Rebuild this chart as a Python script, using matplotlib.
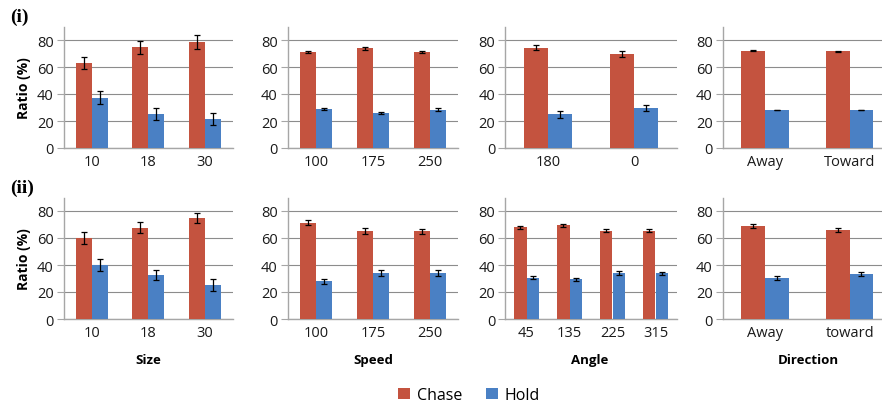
import numpy as np
import matplotlib.pyplot as plt

plt.rcParams['font.family'] = ['Open Sans', 'DejaVu Sans']

CHASE_COLOR = '#c4533f'
HOLD_COLOR = '#4a80c4'

# factor names and their levels
factors = ['Size', 'Speed', 'Angle', 'Direction']
levels_i = [['10', '18', '30'], ['100', '175', '250'], ['180', '0'], ['Away', 'Toward']]
levels_ii = [['10', '18', '30'], ['100', '175', '250'], ['45', '135', '225', '315'], ['Away', 'toward']]

# condition (i)
chase_i = [[62.8, 74.7, 78.6], [70.9, 73.8, 71.2], [74.4, 69.5], [72.2, 71.6]]
chase_err_i = [[4.6, 4.8, 5.0], [0.8, 1.0, 0.9], [2.1, 2.4], [0.3, 0.3]]
hold_i = [[37.1, 25.1, 21.3], [28.7, 25.9, 28.4], [24.9, 29.9], [28.2, 28.2]]
hold_err_i = [[4.8, 4.4, 4.5], [0.9, 1.0, 0.9], [2.4, 2.2], [0.0, 0.0]]

# condition (ii)
chase_ii = [[59.8, 67.6, 75.0], [71.4, 65.4, 64.9], [68.0, 69.4, 65.5, 65.5], [69.0, 66.2]]
chase_err_ii = [[4.3, 3.9, 3.8], [2.0, 2.1, 2.1], [1.0, 1.2, 1.0, 1.0], [1.5, 1.5]]
hold_ii = [[39.9, 32.8, 25.1], [27.8, 33.8, 34.3], [30.6, 29.5, 33.8, 33.8], [30.6, 33.5]]
hold_err_ii = [[4.2, 3.8, 4.2], [2.2, 2.3, 2.3], [1.0, 1.0, 1.5, 1.3], [1.5, 1.5]]

W, H = 882, 406
fig = plt.figure(figsize=(W / 100, H / 100), dpi=100)

# panel extents in pixels (left, right)
cols = [(63.5, 233), (287.5, 458.5), (505, 677), (722.5, 892)]
rows = [(27.5, 149), (198.5, 320)]

bw = 0.28


def draw_panel(ax, labels, chase, chase_err, hold, hold_err):
    x = np.arange(len(labels))
    ekw = dict(ecolor='black', elinewidth=0.9, capsize=2.5, capthick=0.9)
    b1 = ax.bar(x - bw / 2, chase, bw, yerr=chase_err, color=CHASE_COLOR,
                error_kw=ekw, zorder=3, label='Chase')
    b2 = ax.bar(x + bw / 2, hold, bw, yerr=hold_err, color=HOLD_COLOR,
                error_kw=ekw, zorder=3, label='Hold')
    ax.set_xlim(-0.5, len(labels) - 0.5)
    ax.set_ylim(0, 90)
    ax.set_yticks([0, 20, 40, 60, 80])
    ax.set_xticks(x)
    ax.set_xticklabels(labels)
    ax.grid(axis='y', color='#8c8c8c', linewidth=0.8, zorder=0)
    for s in ['top', 'right']:
        ax.spines[s].set_visible(False)
    for s in ['left', 'bottom']:
        ax.spines[s].set_color('#a6a6a6')
        ax.spines[s].set_linewidth(1.0)
    ax.tick_params(axis='y', length=5, color='#a6a6a6', labelsize=10.5, pad=2,
                   labelcolor='#1a1a1a')
    ax.tick_params(axis='x', length=0, labelsize=10.5, pad=4, labelcolor='#1a1a1a')
    return b1, b2


data = [(levels_i, chase_i, chase_err_i, hold_i, hold_err_i),
        (levels_ii, chase_ii, chase_err_ii, hold_ii, hold_err_ii)]

handles = None
for r, (top, bot) in enumerate(rows):
    levels, ch, che, ho, hoe = data[r]
    for c, (left, right) in enumerate(cols):
        ax = fig.add_axes([left / W, 1 - bot / H, (right - left) / W, (bot - top) / H])
        handles = draw_panel(ax, levels[c], ch[c], che[c], ho[c], hoe[c])
        if c == 0:
            ax.set_ylabel('Ratio (%)', fontsize=10, fontweight='bold', labelpad=4)

# row tags
fig.text(10 / W, 1 - 17 / H, '(i)', family='Liberation Serif', fontweight='bold',
         fontsize=14, va='center', ha='left')
fig.text(10 / W, 1 - 188 / H, '(ii)', family='Liberation Serif', fontweight='bold',
         fontsize=14, va='center', ha='left')

# factor names under the bottom row
for name, xc in zip(factors, [148, 373, 590, 808]):
    fig.text(xc / W, 1 - 361 / H, name, fontsize=9.5, fontweight='bold',
             ha='center', va='center')

fig.legend(handles, ['Chase', 'Hold'], loc='center', bbox_to_anchor=(469 / W, 1 - 396 / H),
           ncol=2, frameon=False, fontsize=11.5, handlelength=0.75, handleheight=0.75,
           handletextpad=0.4, columnspacing=1.5)

fig.savefig('out.png', dpi=100)
